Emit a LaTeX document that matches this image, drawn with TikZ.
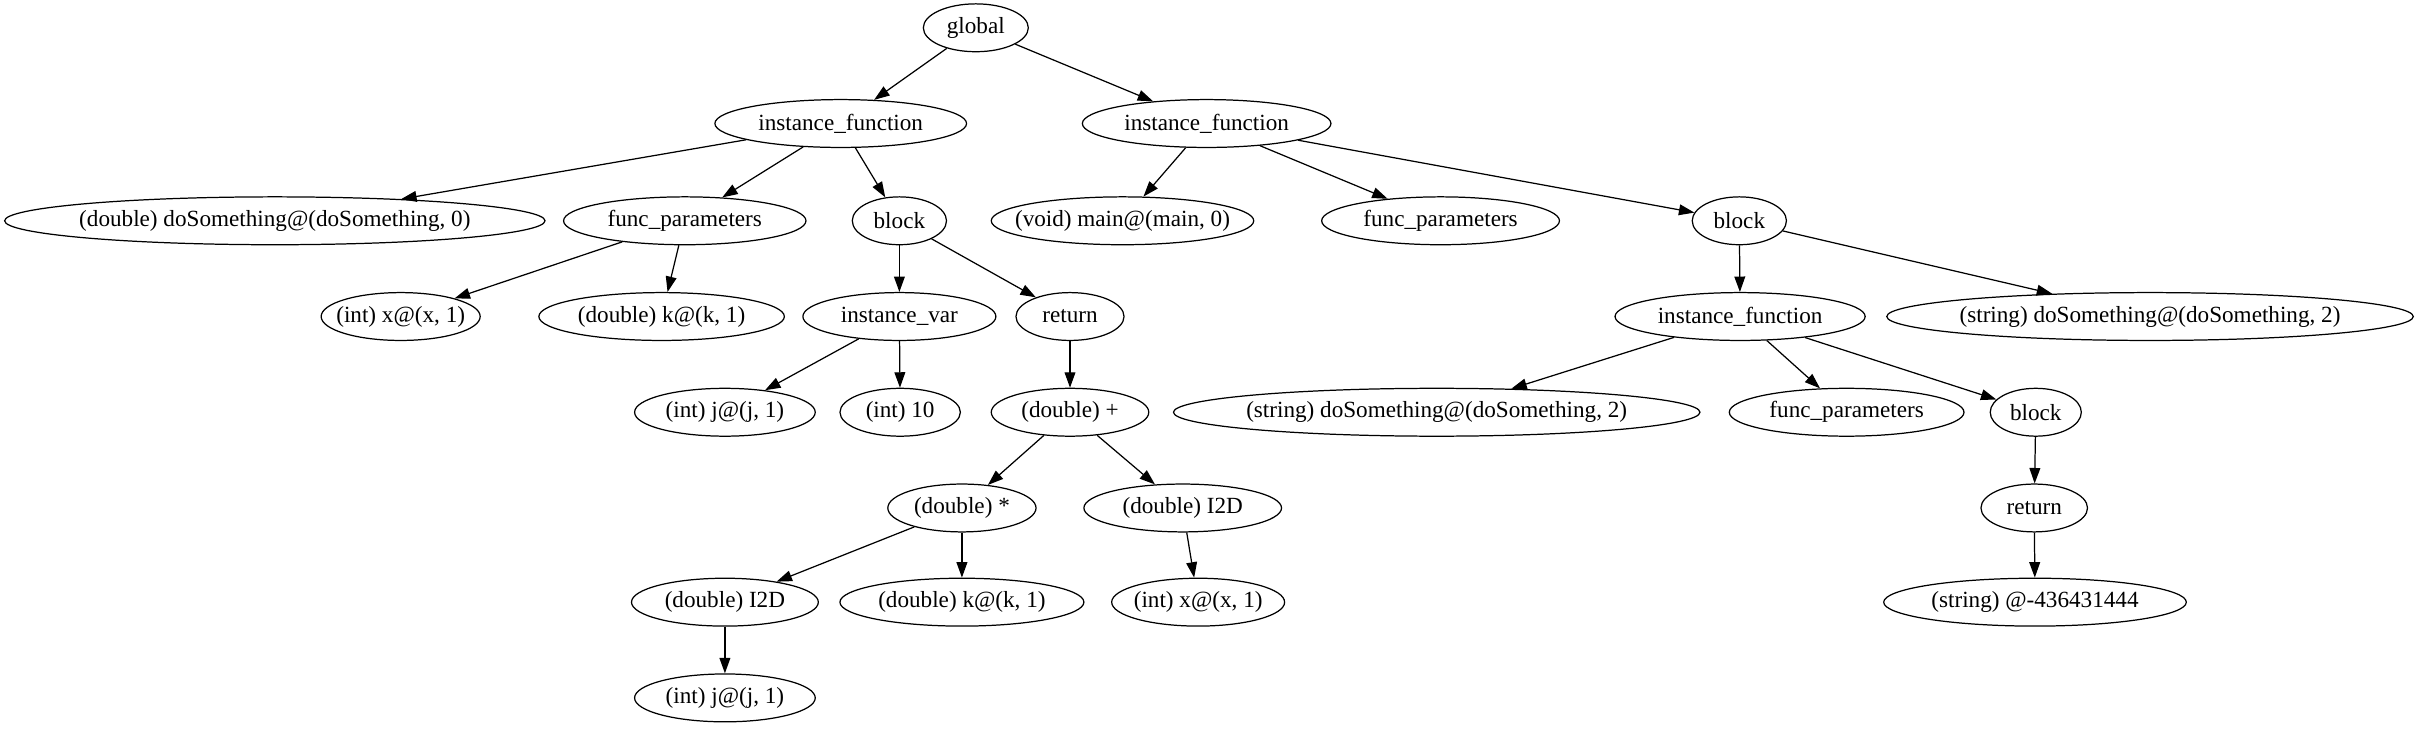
\documentclass[tikz,border=0pt]{standalone}
\usepackage{fontspec}
\setmainfont{Liberation Serif}
\usetikzlibrary{arrows.meta,shapes.geometric}
\begin{document}
\begin{tikzpicture}[x=1pt,y=-1pt,
  nd/.style={draw,ellipse,line width=0.8pt,inner sep=0pt,minimum height=31pt,font=\fontsize{15}{17}\selectfont,
    execute at begin node={\hbox to 0pt\bgroup\hss},execute at end node={\hss\egroup}},
  ed/.style={line width=0.8pt,-{Triangle[length=10pt,width=7pt]}}]
\useasboundingbox (0,0) rectangle (1568,473);
\node[nd,minimum width=68pt]  (global) at (632,18) {global};
\node[nd,minimum width=163pt] (ifa) at (544.5,80) {instance\_function};
\node[nd,minimum width=161pt] (ifb) at (781.5,80) {instance\_function};
\node[nd,minimum width=350pt] (ds0) at (178,143) {(double) doSomething@(doSomething, 0)};
\node[nd,minimum width=157pt] (fp1) at (443.5,143) {func\_parameters};
\node[nd,minimum width=61pt]  (blk1) at (582.5,143) {block};
\node[nd,minimum width=170pt] (main) at (727,143) {(void) main@(main, 0)};
\node[nd,minimum width=154pt] (fp2) at (933,143) {func\_parameters};
\node[nd,minimum width=61pt]  (blk2) at (1126.5,143) {block};
\node[nd,minimum width=103pt] (x1) at (259.5,205) {(int) x@(x, 1)};
\node[nd,minimum width=159pt] (k1) at (428.5,205) {(double) k@(k, 1)};
\node[nd,minimum width=125pt] (ivar) at (582.5,205) {instance\_var};
\node[nd,minimum width=70pt]  (ret1) at (693,205) {return};
\node[nd,minimum width=162pt] (ifc) at (1127,205) {instance\_function};
\node[nd,minimum width=341pt] (ds2a) at (1392.5,205) {(string) doSomething@(doSomething, 2)};
\node[nd,minimum width=117pt] (j1) at (469.5,267) {(int) j@(j, 1)};
\node[nd,minimum width=78pt]  (i10) at (583,267) {(int) 10};
\node[nd,minimum width=102pt] (plus) at (693,267) {(double) +};
\node[nd,minimum width=341pt] (ds2b) at (930.5,267) {(string) doSomething@(doSomething, 2)};
\node[nd,minimum width=152pt] (fp3) at (1196,267) {func\_parameters};
\node[nd,minimum width=59pt]  (blk3) at (1318.5,267) {block};
\node[nd,minimum width=96pt]  (mul) at (623,329) {(double) *};
\node[nd,minimum width=128pt] (i2da) at (766,329) {(double) I2D};
\node[nd,minimum width=69pt]  (ret2) at (1317.5,329) {return};
\node[nd,minimum width=121pt] (i2db) at (469.5,390) {(double) I2D};
\node[nd,minimum width=158pt] (k2) at (623,390) {(double) k@(k, 1)};
\node[nd,minimum width=112pt] (x2) at (776,390) {(int) x@(x, 1)};
\node[nd,minimum width=196pt] (str) at (1318,390) {(string) @-436431444};
\node[nd,minimum width=117pt] (j2) at (469.5,452) {(int) j@(j, 1)};
\draw[ed] (global) -- (ifa);
\draw[ed] (global) -- (ifb);
\draw[ed] (ifa) -- (ds0);
\draw[ed] (ifa) -- (fp1);
\draw[ed] (ifa) -- (blk1);
\draw[ed] (fp1) -- (x1);
\draw[ed] (fp1) -- (k1);
\draw[ed] (blk1) -- (ivar);
\draw[ed] (blk1) -- (ret1);
\draw[ed] (ivar) -- (j1);
\draw[ed] (ivar) -- (i10);
\draw[ed] (ret1) -- (plus);
\draw[ed] (plus) -- (mul);
\draw[ed] (plus) -- (i2da);
\draw[ed] (mul) -- (i2db);
\draw[ed] (mul) -- (k2);
\draw[ed] (i2da) -- (x2);
\draw[ed] (i2db) -- (j2);
\draw[ed] (ifb) -- (main);
\draw[ed] (ifb) -- (fp2);
\draw[ed] (ifb) -- (blk2);
\draw[ed] (blk2) -- (ifc);
\draw[ed] (blk2) -- (ds2a);
\draw[ed] (ifc) -- (ds2b);
\draw[ed] (ifc) -- (fp3);
\draw[ed] (ifc) -- (blk3);
\draw[ed] (blk3) -- (ret2);
\draw[ed] (ret2) -- (str);
\end{tikzpicture}
\end{document}
